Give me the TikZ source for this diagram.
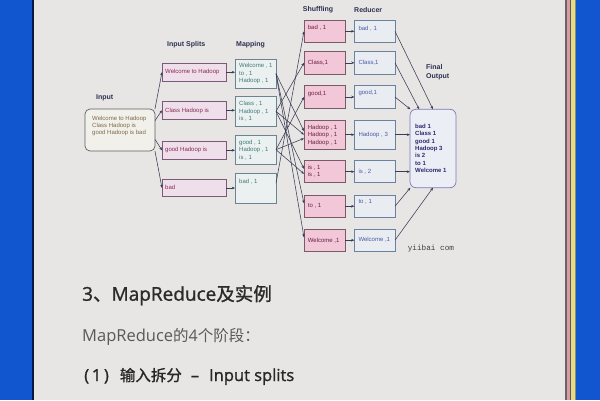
\documentclass[tikz,border=0pt]{standalone}
\usepackage{fontspec}
\setmainfont{Liberation Sans}
\newfontfamily\cjk{Noto Sans CJK SC}
\newfontfamily\cjkb{Noto Sans CJK SC}[FakeBold=1.2]
\newfontfamily\lat{Open Sans}
\newfontfamily\latb{Open Sans}[FakeBold=1.2]
\newfontfamily\monof{Liberation Mono}
\usetikzlibrary{arrows.meta,calc}
\definecolor{bgblue}{HTML}{1256CF}
\definecolor{paper}{HTML}{E7E6E4}
\definecolor{linec}{HTML}{3A3D55}
\definecolor{lblc}{HTML}{2C3050}
\definecolor{intxt}{HTML}{7E6A4C}
\definecolor{infill}{HTML}{F1F0EA}
\definecolor{indraw}{HTML}{5E5E5E}
\definecolor{spfill}{HTML}{EFDFEA}
\definecolor{spdraw}{HTML}{7A5A78}
\definecolor{sptxt}{HTML}{8A2A5A}
\definecolor{mpfill}{HTML}{EBF0F0}
\definecolor{mpdraw}{HTML}{6A8590}
\definecolor{mptxt}{HTML}{3F7A78}
\definecolor{shfill}{HTML}{F2C7D7}
\definecolor{shdraw}{HTML}{7A5A6A}
\definecolor{shtxt}{HTML}{6A2040}
\definecolor{rdfill}{HTML}{E9EDF2}
\definecolor{rddraw}{HTML}{6A82A0}
\definecolor{rdtxt}{HTML}{4A5AA8}
\definecolor{fofill}{HTML}{ECEEF5}
\definecolor{fodraw}{HTML}{7A7AB8}
\definecolor{fotxt}{HTML}{2A2A70}
\definecolor{stpink}{HTML}{D89AA8}
\definecolor{styel}{HTML}{E8DC80}
\tikzset{
  bx/.style={line width=0.7pt, inner sep=0pt, outer sep=0pt},
  inbox/.style={bx, draw=indraw, fill=infill, rounded corners=5pt, minimum width=70pt, minimum height=42pt},
  spbox/.style={bx, draw=spdraw, fill=spfill, minimum width=64pt, minimum height=17.6pt},
  mpbox/.style={bx, draw=mpdraw, fill=mpfill, minimum width=41pt, minimum height=29.4pt},
  shbox/.style={bx, draw=shdraw, fill=shfill, minimum width=41pt},
  rdbox/.style={bx, draw=rddraw, fill=rdfill, minimum width=40.6pt},
  fobox/.style={bx, draw=fodraw, fill=fofill, rounded corners=6pt, minimum width=46pt, minimum height=78.4pt},
  tx/.style={inner sep=0pt, anchor=west, align=left, font=\fontsize{6}{7.5}\selectfont},
  lbl/.style={inner sep=0pt, anchor=west, align=left, text=lblc, font=\fontsize{7}{9.4}\selectfont\bfseries},
  conn/.style={draw=linec, line width=0.55pt, -{Stealth[length=3.2pt,width=2.6pt]}},
}
\begin{document}
\begin{tikzpicture}[x=1pt,y=-1pt]
\useasboundingbox (0,0) rectangle (600,400);
% page background
\fill[bgblue] (0,0) rectangle (600,400);
\fill[black!70!bgblue] (32.3,0) rectangle (34,400);
\fill[paper] (34,0) rectangle (565.3,400);
\fill[black!60] (565.3,0) rectangle (566.5,400);
\fill[stpink] (566.5,0) rectangle (570,400);
\fill[black!65] (570,0) rectangle (571,400);
\fill[styel] (571,0) rectangle (574.5,400);
\fill[black!45] (574.5,0) rectangle (576,400);

% column labels
\node[lbl] (lin) at (96,97.7) {Input};
\node[lbl] (lsp) at (167,44.5) {Input Splits};
\node[lbl] (lmp) at (236,44.3) {Mapping};
\node[lbl] (lsh) at (302.7,10) {Shuffling};
\node[lbl] (lrd) at (354,10) {Reducer};
\node[lbl] (lfo) at (426,72) {Final\\Output};

% input
\node[inbox] (in) at (120,130) {};
\node[tx, text=intxt, font=\fontsize{6}{7.2}\selectfont] (tin) at (92,126.2) {Welcome to Hadoop\\Class Hadoop is\\good Hadoop is bad};

% splits
\node[spbox] (s1) at (194,72.2) {};
\node[spbox] (s2) at (194,110.3) {};
\node[spbox] (s3) at (194,150.3) {};
\node[spbox] (s4) at (194,188) {};
\node[tx, text=sptxt] (ts1) at (165,72.2) {Welcome to Hadoop};
\node[tx, text=sptxt] (ts2) at (165,110.6) {Class Hadoop is};
\node[tx, text=sptxt] (ts3) at (165,150.3) {good Hadoop is};
\node[tx, text=sptxt] (ts4) at (165,187.5) {bad};

% mapping
\node[mpbox] (m1) at (255.5,73.7) {};
\node[mpbox] (m2) at (255.5,111.3) {};
\node[mpbox] (m3) at (255.5,149.7) {};
\node[mpbox, minimum height=30pt] (m4) at (255.5,188.3) {};
\node[tx, text=mptxt] (tm1) at (239,73.5) {Welcome , 1\\to , 1\\Hadoop , 1};
\node[tx, text=mptxt] (tm2) at (239,111.5) {Class , 1\\Hadoop , 1\\is , 1};
\node[tx, text=mptxt] (tm3) at (239,150) {good , 1\\Hadoop , 1\\is , 1};
\node[tx, text=mptxt] (tm4) at (239,181.7) {bad , 1};

% shuffling
\node[shbox, minimum height=22.7pt] (sh1) at (324.5,31.3) {};
\node[shbox, minimum height=22.3pt] (sh2) at (324.5,62.8) {};
\node[shbox, minimum height=22.6pt] (sh3) at (324.5,97) {};
\node[shbox, minimum height=29.3pt] (sh4) at (324.5,134.7) {};
\node[shbox, minimum height=22pt] (sh5) at (324.5,171.7) {};
\node[shbox, minimum height=22.3pt] (sh6) at (324.5,206.2) {};
\node[shbox, minimum height=22.3pt] (sh7) at (324.5,240.2) {};
\node[tx, text=shtxt] (tsh1) at (307.7,28.2) {bad , 1};
\node[tx, text=shtxt] (tsh2) at (307.7,62.5) {Class,1};
\node[tx, text=shtxt] (tsh3) at (307.7,93.5) {good,1};
\node[tx, text=shtxt] (tsh4) at (307.7,135.2) {Hadoop , 1\\Hadoop , 1\\Hadoop , 1};
\node[tx, text=shtxt] (tsh5) at (307.7,171.4) {is , 1\\is , 1};
\node[tx, text=shtxt] (tsh6) at (307.7,206) {to , 1};
\node[tx, text=shtxt] (tsh7) at (307.7,240.5) {Welcome ,1};

% reducer
\node[rdbox, minimum height=22.7pt] (r1) at (374.7,31.3) {};
\node[rdbox, minimum height=22.3pt] (r2) at (374.7,62.8) {};
\node[rdbox, minimum height=22.6pt] (r3) at (374.7,97) {};
\node[rdbox, minimum height=29.3pt] (r4) at (374.7,134.7) {};
\node[rdbox, minimum height=22pt] (r5) at (374.7,171.7) {};
\node[rdbox, minimum height=22.3pt] (r6) at (374.7,206.2) {};
\node[rdbox, minimum height=22.3pt] (r7) at (374.7,240.2) {};
\node[tx, text=rdtxt] (tr1) at (358.3,28.3) {bad , 1};
\node[tx, text=rdtxt] (tr2) at (358.3,62.3) {Class,1};
\node[tx, text=rdtxt] (tr3) at (358.3,93.3) {good,1};
\node[tx, text=rdtxt] (tr4) at (358.3,135) {Hadoop , 3};
\node[tx, text=rdtxt] (tr5) at (358.3,171.7) {is , 2};
\node[tx, text=rdtxt] (tr6) at (358.3,201.7) {to , 1};
\node[tx, text=rdtxt] (tr7) at (358.3,240) {Welcome ,1};

% final output
\node[fobox] (fo) at (433,148.5) {};
\node[tx, text=fotxt, font=\fontsize{6}{7.33}\selectfont\bfseries] (tfo) at (415,148.3) {bad 1\\Class 1\\good 1\\Hadoop 3\\is 2\\to 1\\Welcome 1};

% watermark
\node[inner sep=0pt, anchor=west, text=black!75, font=\monof\fontsize{7.7}{8}\selectfont] (wm) at (407.6,249) {yiibai com};

% connectors: input -> splits
\draw[conn] (in.31) -- (s1.west);
\draw[conn] (in.15) -- (s2.west);
\draw[conn] (in.-15) -- (s3.west);
\draw[conn] (in.-31) -- (s4.west);
% splits -> mapping
\draw[conn] (s1.east) -- (s1.east -| m1.west);
\draw[conn] (s2.east) -- (s2.east -| m2.west);
\draw[conn] (s3.east) -- (s3.east -| m3.west);
\draw[conn] (s4.east) -- (s4.east -| m4.west);
% mapping -> shuffling
\draw[conn] (m1.east) -- (sh4.170);
\draw[conn] (m1.east) -- (sh6.172);
\draw[conn] (m1.east) -- (sh7.172);
\draw[conn] (m2.east) -- (sh2.west);
\draw[conn] (m2.east) -- (sh4.west);
\draw[conn] (m2.east) -- (sh5.172);
\draw[conn] (m3.east) -- (sh3.west);
\draw[conn] (m3.east) -- (sh4.190);
\draw[conn] (m3.east) -- (sh5.186);
\draw[conn] (m4.14) -- (sh1.west);
% shuffling -> reducer
\draw[conn] (sh1.east) -- (r1.west);
\draw[conn] (sh2.east) -- (r2.west);
\draw[conn] (sh3.east) -- (r3.west);
\draw[conn] (sh4.east) -- (r4.west);
\draw[conn] (sh5.east) -- (r5.west);
\draw[conn] (sh6.east) -- (r6.west);
\draw[conn] (sh7.east) -- (r7.west);
% reducer -> final output
\draw[conn] (r1.east) -- (fo.north);
\draw[conn] (r2.east) -- ($(fo.north west)!0.2!(fo.north east)$);
\draw[conn] (r3.east) -- (fo.120);
\draw[conn] (r4.east) -- (r4.east -| fo.west);
\draw[conn] (r5.east) -- (r5.east -| fo.west);
\draw[conn] (r6.east) -- (fo.240);
\draw[conn] (r7.east) -- (fo.south);

% text below
\node[anchor=base west, inner sep=0pt, text=black!83] (h1) at (82,300.7)
  {\fontsize{18.5}{20}\selectfont{\latb\fontsize{19}{20}\selectfont 3}{\cjkb 、}{\latb\fontsize{19}{20}\selectfont MapReduce}{\cjkb 及实例}};
\node[anchor=base west, inner sep=0pt, text=black!65] (h2) at (82,341.7)
  {\fontsize{15.5}{17}\selectfont{\lat\fontsize{16.5}{17}\selectfont MapReduce}{\cjk 的}{\lat\fontsize{16}{17}\selectfont 4}{\cjk 个阶段：}};
\node[anchor=base west, inner sep=0pt, text=black!85] (h3) at (84,381)
  {\fontsize{15.5}{17}\selectfont{\latb\fontsize{16.5}{17}\selectfont (\,1\,)}\hspace{11pt}{\cjkb 输入拆分}\hspace{9pt}{\latb\fontsize{16.5}{17}\selectfont –}\hspace{10pt}{\latb\fontsize{16.5}{17}\selectfont Input splits}};
\end{tikzpicture}
\end{document}
